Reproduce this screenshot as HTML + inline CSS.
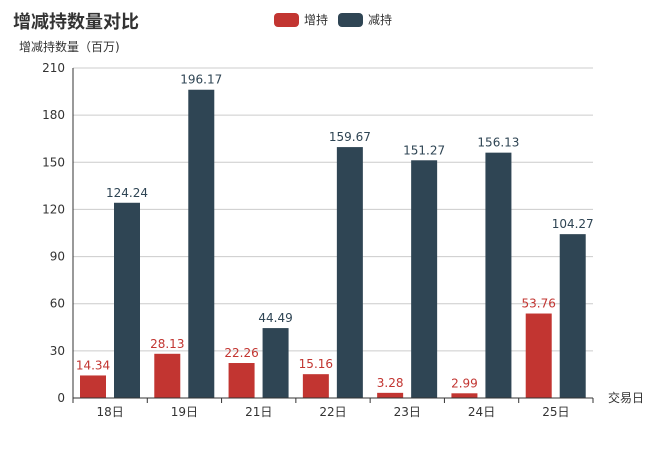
<!DOCTYPE html>
<html><head><meta charset="utf-8"><style>
body{margin:0;background:#fff;}
svg{display:block;font-family:"DejaVu Sans","Noto Sans CJK SC",sans-serif;}
</style></head><body>
<svg id="chart" width="650" height="450">
<text x="13" y="28" font-size="18" font-weight="bold" fill="#333" font-family="Liberation Sans, Noto Sans CJK SC, sans-serif">增减持数量对比</text>
<g><rect x="274" y="13" width="25" height="14" rx="4" fill="#c23531"/><text x="304" y="24" font-size="12" fill="#333">增持</text></g>
<g><rect x="338" y="13" width="25" height="14" rx="4" fill="#2f4554"/><text x="368" y="24" font-size="12" fill="#333">减持</text></g>
<text x="19" y="51" font-size="12" fill="#333">增减持数量（百万)</text>
<text x="608" y="402" font-size="12" fill="#333">交易日</text>
<g id="grid"></g><g id="bars"></g><g id="axes"></g>
</svg>
<script>
const categories=["18日","19日","21日","22日","23日","24日","25日"];
const increase=[14.34,28.13,22.26,15.16,3.28,2.99,53.76];
const decrease=[124.24,196.17,44.49,159.67,151.27,156.13,104.27];
const yTicks=[0,30,60,90,120,150,180,210];
const ns="http://www.w3.org/2000/svg";
const L=73,R=593,T=68,B=398,yMax=210;
const bw=(R-L)/categories.length;
const y=v=>B-(v/yMax)*(B-T);
const x=i=>L+i*bw;
function mk(tag,attrs,parent,text){const e=document.createElementNS(ns,tag);for(const k in attrs)e.setAttribute(k,attrs[k]);if(text!==undefined)e.textContent=text;document.getElementById(parent).appendChild(e);return e;}
yTicks.forEach(t=>{
  const l=mk("line",{x1:L,x2:R,y1:y(t),y2:y(t),stroke:"#ccc"},"grid");
  
  
  const tx=mk("text",{x:L-8,y:y(t)+4,"font-size":12,fill:"#333","text-anchor":"end"},"axes",t);
  
  
});
mk("line",{x1:L,x2:L,y1:T,y2:B,stroke:"#333"},"axes");
mk("line",{x1:L,x2:R,y1:B,y2:B,stroke:"#333"},"axes");
categories.forEach((c,i)=>{
  mk("line",{x1:x(i),x2:x(i),y1:B,y2:B+5,stroke:"#333"},"axes");
  if(i===categories.length-1)mk("line",{x1:x(i+1),x2:x(i+1),y1:B,y2:B+5,stroke:"#333"},"axes");
  const lb=mk("text",{x:x(i)+bw/2,y:B+18,"font-size":12,fill:"#333","text-anchor":"middle"},"axes",c);
  
  
  [[increase[i],"#c23531",7],[decrease[i],"#2f4554",41]].forEach(([v,col,off],s)=>{
    const r=mk("rect",{x:x(i)+off,y:y(v),width:26,height:B-y(v),fill:col},"bars");
    
    
    const t=mk("text",{x:x(i)+off+13,y:y(v)-6,"font-size":12,fill:col,"text-anchor":"middle"},"bars",v.toFixed(2));
    
    
  });
});
</script>
</body></html>
